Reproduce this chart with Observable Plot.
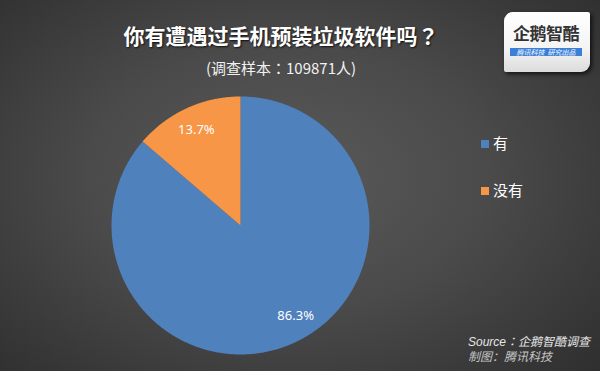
<!DOCTYPE html>
<html>
<head>
<meta charset="utf-8">
<script src="https://cdn.jsdelivr.net/npm/d3@7"></script>
<script src="https://cdn.jsdelivr.net/npm/@observablehq/plot@0.6"></script>
<style>
  html, body { margin: 0; padding: 0; }
  body { width: 600px; height: 371px; overflow: hidden; }
  #wrap {
    position: relative; width: 600px; height: 371px; overflow: hidden;
    background: radial-gradient(ellipse 75% 80% at 48% 48%, #5a5a5a 0%, #4a4a4a 45%, #2c2c2c 100%);
    font-family: "Noto Sans CJK SC", "Noto Sans", sans-serif;
  }
  #chart { position: absolute; left: 0; top: 0; }
  .title {
    position: absolute; left: 81px; width: 400px; top: 20px; text-align: center;
    color: #fff; font-size: 21px; font-weight: bold; line-height: 30px;
    text-shadow: 1px 1px 2px rgba(0,0,0,0.8); white-space: nowrap;
  }
  .subtitle {
    position: absolute; left: 81px; width: 400px; top: 58px; text-align: center;
    color: #f2f2f2; font-size: 15px; line-height: 20px; white-space: nowrap;
  }
  .cc { font-family: "Noto Sans CJK TC", "Noto Sans CJK SC", sans-serif; }
  .legend { position: absolute; left: 481px; color: #fff; font-size: 15px; line-height: 20px; white-space: nowrap; }
  .legend span.sw { display: inline-block; width: 8px; height: 8px; margin-right: 4px; vertical-align: 1px; }
  .source {
    position: absolute; left: 468px; top: 332px; color: #e6e6e6; font-size: 12px; font-style: italic;
    line-height: 17px; white-space: nowrap; font-family: "Liberation Sans", "Noto Sans CJK SC", sans-serif;
  }
  .source2 { top: 349px; color: #c4c4c4; }
  .logo {
    position: absolute; left: 504px; top: 12px; width: 86px; height: 60px;
    background: linear-gradient(#ffffff 0%, #f4f4f4 60%, #dcdcdc 100%);
    border-radius: 9px 2px 9px 2px; box-shadow: 2px 2px 4px rgba(0,0,0,0.7);
  }
  .logo .name {
    position: absolute; left: 9px; top: 9px; font-size: 17px; font-weight: bold; color: #333;
    letter-spacing: -0.5px; line-height: 24px; white-space: nowrap;
  }
  .logo .band {
    position: absolute; left: 6px; top: 36px; width: 72px; height: 8px; background: #3c7fd8;
    color: #fff; font-size: 7px; line-height: 8px; font-style: italic; text-align: center; white-space: nowrap;
  }
</style>
</head>
<body>
<div id="wrap">
  <div id="chart"></div>
  <div class="title">你有遭遇过手机预装垃圾软件吗<span class="cc">？</span></div>
  <div class="subtitle">(调查样本<span class="cc">：</span>109871人)</div>
  <div class="legend" style="top:133px"><span class="sw" style="background:#4f81bd"></span>有</div>
  <div class="legend" style="top:180px"><span class="sw" style="background:#f79646"></span>没有</div>
  <div class="source">Source<span class="cc">：</span>企鹅智酷调查</div>
  <div class="source source2">制图：腾讯科技</div>
  <div class="logo">
    <div class="name">企鹅智酷</div>
    <div class="band">腾讯科技&nbsp;&nbsp;研究出品</div>
  </div>
</div>
<script>
// ---- data ----
const categories = ["有", "没有"];
const values = [86.3, 13.7];
const labels = ["86.3%", "13.7%"];

// ---- geometry derived from the data ----
const total = d3.sum(values);
let start = 0;
const slices = categories.map((cat, i) => {
  const a0 = start;
  const a1 = start + values[i] / total * 2 * Math.PI;
  start = a1;
  return {cat, label: labels[i], a0, a1};
});
const points = [];
for (const s of slices) {
  points.push({cat: s.cat, x: 0, y: 0});
  const n = Math.max(2, Math.ceil((s.a1 - s.a0) / (Math.PI / 360)));
  for (let k = 0; k <= n; k++) {
    const a = s.a0 + (s.a1 - s.a0) * k / n;
    points.push({cat: s.cat, x: Math.sin(a), y: Math.cos(a)});
  }
  points.push({cat: s.cat, x: 0, y: 0});
}
const labelPos = slices.map(s => {
  const m = (s.a0 + s.a1) / 2;
  return {cat: s.cat, label: s.label, x: 0.82 * Math.sin(m), y: 0.82 * Math.cos(m)};
});

const W = 600, H = 371, R = 129, CX = 240, CY = 225;
const chart = Plot.plot({
  width: W, height: H,
  margin: 0,
  style: {background: "transparent", overflow: "visible"},
  x: {domain: [-CX / R, (W - CX) / R], axis: null},
  y: {domain: [-(H - CY) / R, CY / R], axis: null},
  color: {domain: categories, range: ["#4f81bd", "#f79646"]},
  marks: [
    Plot.line(points, {x: "x", y: "y", z: "cat", fill: "cat", stroke: "none", curve: "linear"}),
    Plot.text(labelPos.filter(d => d.cat === "没有"), {x: "x", y: "y", text: "label", fill: "white", fontSize: 13, fontFamily: "Noto Sans, sans-serif"}),
    Plot.text(labelPos.filter(d => d.cat === "有"), {x: "x", y: "y", text: "label", fill: "white", fontSize: 13, fontFamily: "Noto Sans, sans-serif", dx: 11, dy: -6})
  ]
});
document.getElementById("chart").appendChild(chart);
</script>
</body>
</html>
